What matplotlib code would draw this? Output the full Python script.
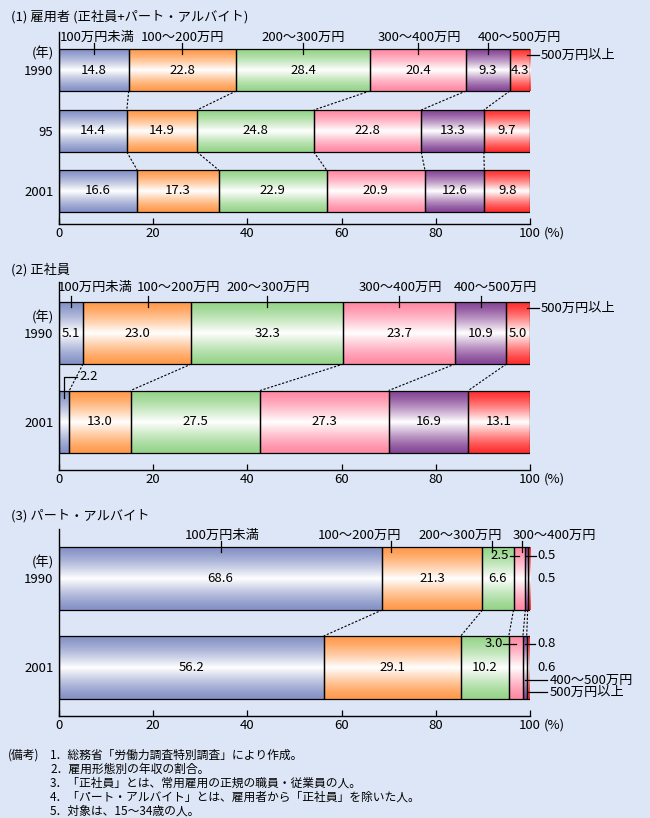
import numpy as np
import matplotlib
matplotlib.use('Agg')
import matplotlib.pyplot as plt
from matplotlib.colors import LinearSegmentedColormap

plt.rcParams['font.family'] = ['Noto Sans CJK JP', 'DejaVu Sans']

# ---- data ----
categories = ['100万円未満', '100～200万円', '200～300万円', '300～400万円', '400～500万円', '500万円以上']

# (1) 雇用者
p1_years = ['1990', '95', '2001']
p1_1990 = [14.8, 22.8, 28.4, 20.4, 9.3, 4.3]
p1_1995 = [14.4, 14.9, 24.8, 22.8, 13.3, 9.7]
p1_2001 = [16.6, 17.3, 22.9, 20.9, 12.6, 9.8]

# (2) 正社員
p2_years = ['1990', '2001']
p2_1990 = [5.1, 23.0, 32.3, 23.7, 10.9, 5.0]
p2_2001 = [2.2, 13.0, 27.5, 27.3, 16.9, 13.1]

# (3) パート・アルバイト
p3_years = ['1990', '2001']
p3_1990 = [68.6, 21.3, 6.6, 2.5, 0.5, 0.5]
p3_2001 = [56.2, 29.1, 10.2, 3.0, 0.8, 0.6]

xticks = [0, 20, 40, 60, 80, 100]

notes = ['1．総務省「労働力調査特別調査」により作成。',
         '2．雇用形態別の年収の割合。',
         '3．「正社員」とは、常用雇用の正規の職員・従業員の人。',
         '4．「パート・アルバイト」とは、雇用者から「正社員」を除いた人。',
         '5．対象は、15～34歳の人。']

# ---- style ----
BG = '#dde6f6'
colors = ['#8592c6', '#ff9a4c', '#96d48a', '#ff8aa4', '#864696', '#ff3030']
FS = 9.5
W, H = 650, 818
X0, X1 = 59, 530


def xp(px):
    # pixel x -> data x (percent)
    return (px - X0) / (X1 - X0) * 100


fig = plt.figure(figsize=(W / 100, H / 100), dpi=100, facecolor=BG)


def make_axes(top, bottom):
    ax = fig.add_axes([X0 / W, 1 - bottom / H, (X1 - X0) / W, (bottom - top) / H])
    ax.set_facecolor('none')
    for s in ['top', 'right']:
        ax.spines[s].set_visible(False)
    for s in ['left', 'bottom']:
        ax.spines[s].set_linewidth(1.0)
    ax.set_xticks(xticks)
    ax.set_xticklabels([str(t) for t in xticks])
    ax.tick_params(axis='x', direction='in', length=4.5, width=0.9, pad=2, labelsize=FS)
    ax.tick_params(axis='y', length=0, pad=4, labelsize=FS)
    ax.text(xp(544), bottom + 9, '(%)', ha='left', va='center', fontsize=FS)
    return ax


def draw_row(ax, vals, yc, h, labelled):
    vals = np.array(vals)
    lefts = np.concatenate([[0], np.cumsum(vals)[:-1]])
    grad = (1 - np.abs(np.linspace(-1, 1, 80))) ** 1.3
    for i, (l, v) in enumerate(zip(lefts, vals)):
        cmap = LinearSegmentedColormap.from_list('g', [colors[i], 'white'])
        ax.imshow(grad[:, None], cmap=cmap, vmin=0, vmax=1, aspect='auto',
                  extent=[l, l + v, yc + h / 2, yc - h / 2],
                  interpolation='bilinear', zorder=2)
    ax.barh(yc, vals, left=lefts, height=h, fill=False, edgecolor='black',
            linewidth=0.9, zorder=3)
    for i in labelled:
        ax.text(lefts[i] + vals[i] / 2, yc, f'{vals[i]:.1f}', ha='center',
                va='center', fontsize=FS, zorder=4)
    return lefts, vals


def connect(ax, upper, lower, y_a, y_b):
    for a, b in zip(np.cumsum(upper)[:-1], np.cumsum(lower)[:-1]):
        ax.plot([a, b], [y_a, y_b], color='black', lw=0.8,
                ls=(0, (2, 1.5)), zorder=1, clip_on=False)


def cat_labels(ax, bar_top, ticks, centers, names, gap=12):
    for t, c, n in zip(ticks, centers, names):
        ax.plot([t, t], [bar_top - 6, bar_top + 5], color='black', lw=0.9,
                zorder=5, clip_on=False)
        ax.text(c, bar_top - gap, n, ha='center', va='center', fontsize=FS)


def side_label(ax, x_from, y, text, x_to=539, x_text=541):
    ax.plot([x_from, xp(x_to)], [y, y], color='black', lw=0.9, zorder=5, clip_on=False)
    ax.text(xp(x_text), y, text, ha='left', va='center', fontsize=FS)


def finish(ax, top, bottom, centers, years):
    ax.set_xlim(0, 100)
    ax.set_ylim(bottom, top)
    ax.set_yticks(centers)
    ax.set_yticklabels(years)
    ax.text(xp(54), centers[0] - 16, '(年)', ha='right', va='center', fontsize=FS)


def mids(vals):
    v = np.array(vals)
    return np.cumsum(v) - v / 2


# ---- (1) 雇用者 ----
fig.text(11 / W, 1 - 17 / H, '(1) 雇用者 (正社員+パート・アルバイト)', ha='left', va='center', fontsize=FS)
ax1 = make_axes(32, 224)
ys1 = [70, 131, 191]
h1 = 42
draw_row(ax1, p1_1990, ys1[0], h1, range(6))
draw_row(ax1, p1_1995, ys1[1], h1, range(6))
draw_row(ax1, p1_2001, ys1[2], h1, range(6))
connect(ax1, p1_1990, p1_1995, ys1[0] + h1 / 2, ys1[1] - h1 / 2)
connect(ax1, p1_1995, p1_2001, ys1[1] + h1 / 2, ys1[2] - h1 / 2)
cat_labels(ax1, ys1[0] - h1 / 2, mids(p1_1990)[:5], [8.1, 26.3, 51.8, 76.6, 97.8], categories[:5])
side_label(ax1, xp(527), ys1[0] - h1 / 2 + 6, categories[5])
finish(ax1, 32, 224, ys1, p1_years)

# ---- (2) 正社員 ----
fig.text(11 / W, 1 - 270 / H, '(2) 正社員', ha='left', va='center', fontsize=FS)
ax2 = make_axes(282, 470)
ys2 = [333, 421.5]
h2 = 62
draw_row(ax2, p2_1990, ys2[0], h2, range(6))
draw_row(ax2, p2_2001, ys2[1], h2, range(1, 6))
connect(ax2, p2_1990, p2_2001, ys2[0] + h2 / 2, ys2[1] - h2 / 2)
m2 = mids(p2_1990)
cat_labels(ax2, ys2[0] - h2 / 2, [m2[0], 19.0, m2[2], m2[3], m2[4]],
           [7.7, 25.4, 44.4, 72.5, 92.6], categories[:5], gap=15)
side_label(ax2, xp(527), ys2[0] - h2 / 2 + 6, categories[5])
# 2.2 leader
x22 = mids(p2_2001)[0]
ax2.plot([x22, x22, xp(77)], [ys2[1] - h2 / 2 + 7, 377, 377], color='black', lw=0.9,
         zorder=5, clip_on=False)
ax2.text(xp(79), 376, f'{p2_2001[0]:.1f}', ha='left', va='center', fontsize=FS)
finish(ax2, 282, 470, ys2, p2_years)

# ---- (3) パート・アルバイト ----
fig.text(11 / W, 1 - 516 / H, '(3) パート・アルバイト', ha='left', va='center', fontsize=FS)
ax3 = make_axes(529, 716)
ys3 = [578.5, 667.5]
h3 = 63
draw_row(ax3, p3_1990, ys3[0], h3, range(3))
draw_row(ax3, p3_2001, ys3[1], h3, range(3))
connect(ax3, p3_1990, p3_2001, ys3[0] + h3 / 2, ys3[1] - h3 / 2)
cat_labels(ax3, ys3[0] - h3 / 2, [34.3, 70.4, 91.9, 98.3],
           [34.6, 63.9, 85.2, 105.1], categories[:4])

m30 = mids(p3_1990)
m31 = mids(p3_2001)
top0 = ys3[0] - h3 / 2
top1 = ys3[1] - h3 / 2
# 1990 small segments
ax3.plot([xp(510), m30[3]], [top0 + 9, top0 + 9], color='black', lw=0.9, zorder=5)
ax3.text(xp(500), top0 + 9, f'{p3_1990[3]:.1f}', ha='center', va='center', fontsize=FS, zorder=4)
side_label(ax3, m30[4], top0 + 9, f'{p3_1990[4]:.1f}', x_to=536, x_text=537)
ax3.text(xp(537), ys3[0], f'{p3_1990[5]:.1f}', ha='left', va='center', fontsize=FS)
# 2001 small segments
ax3.plot([xp(503), m31[3]], [top1 + 8, top1 + 8], color='black', lw=0.9, zorder=5)
ax3.text(xp(493.5), top1 + 8, f'{p3_2001[3]:.1f}', ha='center', va='center', fontsize=FS, zorder=4)
side_label(ax3, m31[4], top1 + 8, f'{p3_2001[4]:.1f}', x_to=535, x_text=537)
ax3.text(xp(537), ys3[1], f'{p3_2001[5]:.1f}', ha='left', va='center', fontsize=FS)
side_label(ax3, m31[4], top1 + 44, categories[4], x_to=547, x_text=550)
side_label(ax3, m31[5], top1 + 56, categories[5], x_to=547, x_text=550)
finish(ax3, 529, 716, ys3, p3_years)

# ---- notes ----
fig.text(8 / W, 1 - 755 / H, '(備考)', ha='left', va='center', fontsize=8.5)
for i, n in enumerate(notes):
    fig.text(50 / W, 1 - (755 + 14 * i) / H, n, ha='left', va='center', fontsize=8.5)

fig.savefig('out.png', dpi=100, facecolor=BG)
